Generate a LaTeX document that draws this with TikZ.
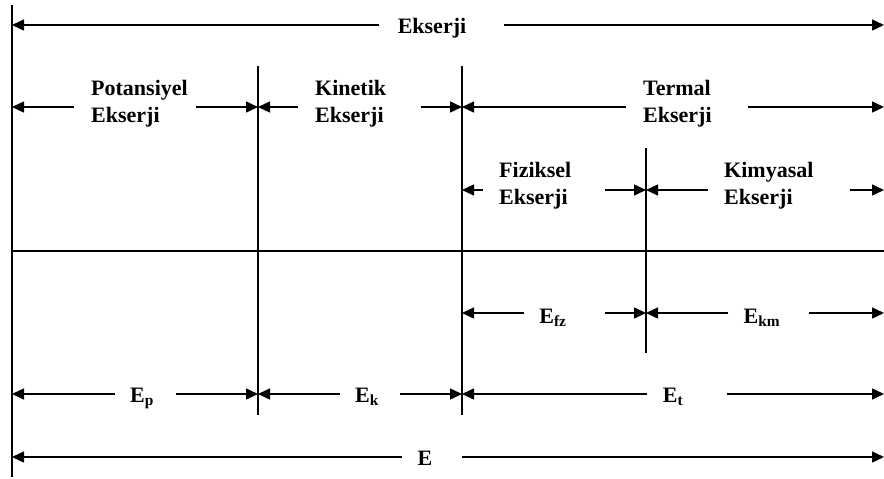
\documentclass[tikz,border=0pt]{standalone}
\usepackage{fontspec}
\setmainfont{Liberation Serif}
\usetikzlibrary{arrows.meta}
\begin{document}
\begin{tikzpicture}[x=1pt,y=-1pt,
  rule/.style={line width=1.6pt},
  dimline/.style={line width=1.5pt,-{Triangle[length=12pt,width=11pt]}},
  lbl/.style={font=\fontsize{22}{27}\selectfont\bfseries, inner sep=0pt},
  lbltwo/.style={lbl, align=left, anchor=west}]
\useasboundingbox (0,0) rectangle (884,479);

% division rules
\coordinate (v1t) at (12,5);    \coordinate (v1b) at (12,477);
\coordinate (v2t) at (258,66);  \coordinate (v2b) at (258,415);
\coordinate (v3t) at (462,66);  \coordinate (v3b) at (462,415);
\coordinate (v4t) at (646,148); \coordinate (v4b) at (646,353);
\coordinate (hl)  at (12,251);  \coordinate (hr)  at (884,251);
\draw[rule] (v1t) -- (v1b);
\draw[rule] (v2t) -- (v2b);
\draw[rule] (v3t) -- (v3b);
\draw[rule] (v4t) -- (v4b);
\draw[rule,line width=1.3pt] (hl) -- (hr);

% labels
\node[lbl, anchor=base] (ex) at (432,33) {Ekserji};
\node[lbltwo] (pot) at (91,104)  {Potansiyel\\Ekserji};
\node[lbltwo] (kin) at (315,104) {Kinetik\\Ekserji};
\node[lbltwo] (ter) at (643,104) {Termal\\Ekserji};
\node[lbltwo] (fiz) at (499,186) {Fiziksel\\Ekserji};
\node[lbltwo] (kim) at (724,186) {Kimyasal\\Ekserji};
\node[lbl, anchor=base] (efz) at (553,323) {E\textsubscript{fz}};
\node[lbl, anchor=base] (ekm) at (762,323) {E\textsubscript{km}};
\node[lbl, anchor=base] (ep)  at (142,402) {E\textsubscript{p}};
\node[lbl, anchor=base] (ek)  at (367,402) {E\textsubscript{k}};
\node[lbl, anchor=base] (et)  at (673,402) {E\textsubscript{t}};
\node[lbl, anchor=base] (e)   at (425,465) {E};

% dimension arrows: start / tip / height
\foreach \s/\t/\y [count=\i] in {
    379/12/25, 504/884/25,
    74/12/107, 196/258/107, 298/258/107, 421/462/107, 626/462/107, 748/884/107,
    483/462/190, 605/646/190, 708/646/190, 850/884/190,
    524/462/313, 605/646/313, 728/646/313, 809/884/313,
    115/12/394, 176/258/394, 340/258/394, 400/462/394, 647/462/394, 727/884/394,
    402/12/457, 462/884/457} {
  \coordinate (s\i) at (\s,\y);
  \coordinate (t\i) at (\t,\y);
  \draw[dimline] (s\i) -- (t\i);
}
\end{tikzpicture}
\end{document}
